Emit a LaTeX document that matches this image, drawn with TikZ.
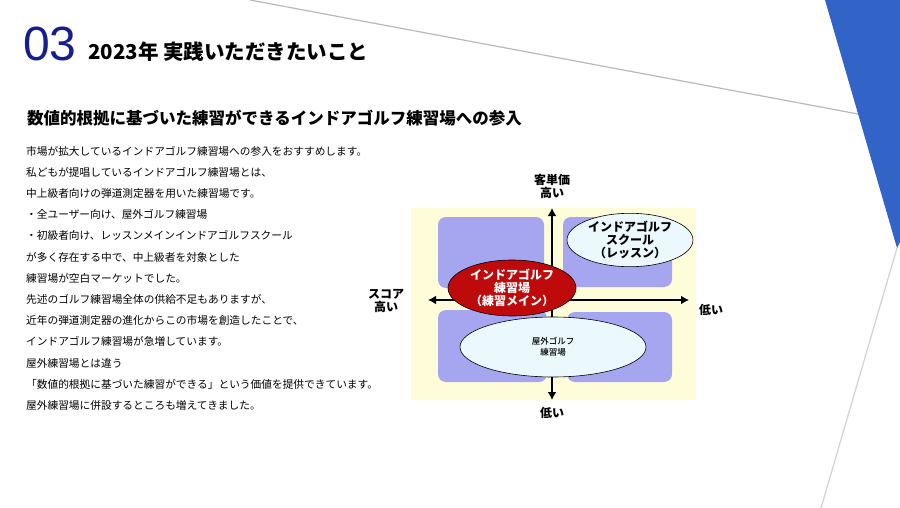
\documentclass[tikz,border=0pt]{standalone}
\usepackage{fontspec}
\setmainfont{Noto Sans CJK JP}
\newfontfamily\latin{Liberation Sans}
\newfontfamily\cjkmed{Noto Sans CJK JP Medium}
\usetikzlibrary{arrows.meta,shapes.geometric}
\begin{document}
\begin{tikzpicture}[x=1pt,y=-1pt,
  body/.style={anchor=west,inner sep=0pt,font=\fontsize{10.7}{11}\selectfont},
  quad/.style={fill={rgb,255:red,165;green,165;blue,240},rounded corners=8pt},
  axis/.style={line width=2.6pt,-{Latex[length=8pt,width=9pt]}},
  lab/.style={align=center,font=\bfseries\fontsize{12}{13}\selectfont,inner sep=0pt}]
\useasboundingbox (0,0) rectangle (900,508);
\fill[white] (0,0) rectangle (900,508);
% background decoration
\draw[gray!55,line width=1.2pt] (250,0) -- (858,114);
\fill[color={rgb,255:red,50;green,100;blue,200}] (825,0) -- (900,0) -- (900,242) -- (897,248) -- cycle;
\draw[gray!35,line width=1.2pt] (897,248) -- (821,508);
% title
\node[anchor=base west,inner sep=0pt,text={rgb,255:red,20;green,30;blue,140},font=\latin\fontsize{48}{48}\selectfont] (num) at (23,61) {03};
\node[anchor=base west,inner sep=0pt,font=\bfseries\fontsize{20.5}{21}\selectfont] (title) at (88,60) {2023年 実践いただきたいこと};
\node[anchor=west,inner sep=0pt,font=\bfseries\fontsize{16.5}{17}\selectfont] (sub) at (27,118) {数値的根拠に基づいた練習ができるインドアゴルフ練習場への参入};
% body text
\foreach \t [count=\i] in {市場が拡大しているインドアゴルフ練習場への参入をおすすめします。,
 私どもが提唱しているインドアゴルフ練習場とは、,
 中上級者向けの弾道測定器を用いた練習場です。,
 ・全ユーザー向け、屋外ゴルフ練習場,
 ・初級者向け、レッスンメインインドアゴルフスクール,
 が多く存在する中で、中上級者を対象とした,
 練習場が空白マーケットでした。,
 先述のゴルフ練習場全体の供給不足もありますが、,
 近年の弾道測定器の進化からこの市場を創造したことで、,
 インドアゴルフ練習場が急増しています。,
 屋外練習場とは違う,
 「数値的根拠に基づいた練習ができる」という価値を提供できています。,
 屋外練習場に併設するところも増えてきました。}
 \node[body] (t\i) at (26,{151+21.2*(\i-1)}) {\t};
% diagram
\fill[yellow!15] (411,208) rectangle (696,400);
\fill[quad] (438,217) rectangle (544,288);
\fill[quad] (563,217) rectangle (672,287);
\fill[quad] (438,310) rectangle (547,382);
\fill[quad] (567,312) rectangle (672,382);
\coordinate (top) at (552,208);
\coordinate (bot) at (552,400);
\coordinate (lft) at (428,300);
\coordinate (rgt) at (689,300);
\coordinate (ctr) at (552,300);
\draw[axis] (ctr) -- (top);
\draw[axis] (ctr) -- (bot);
\draw[axis] (ctr) -- (lft);
\draw[axis] (ctr) -- (rgt);
\node[ellipse,draw=black,line width=0.6pt,fill=cyan!8,minimum width=126pt,minimum height=50pt,lab,font=\bfseries\fontsize{12}{13}\selectfont] (school) at (630,240) {インドアゴルフ\\スクール\\（レッスン）};
\node[ellipse,draw=black,line width=0.6pt,fill=cyan!8,minimum width=186pt,minimum height=60pt,lab,font=\cjkmed\fontsize{8.5}{11}\selectfont] (outdoor) at (553,347) {屋外ゴルフ\\練習場};
\node[ellipse,draw=black,line width=0.6pt,fill={rgb,255:red,190;green,10;blue,10},text=white,minimum width=128pt,minimum height=56pt,lab,font=\bfseries\fontsize{12}{13}\selectfont] (indoor) at (512,288) {インドアゴルフ\\練習場\\（練習メイン）};
\node[lab] (ytop) at (552,186) {客単価\\高い};
\node[lab] (ybot) at (552,413) {低い};
\node[lab] (xl) at (386,301) {スコア\\高い};
\node[lab] (xr) at (711,310) {低い};
\end{tikzpicture}
\end{document}
